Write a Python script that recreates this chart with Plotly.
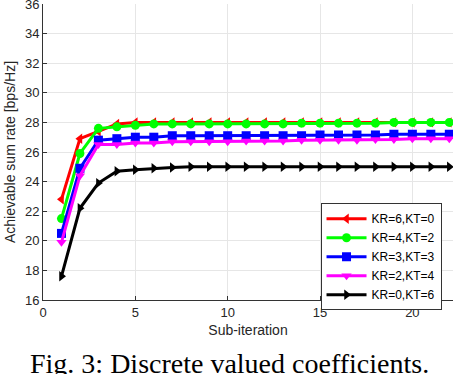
"""
Sum rate vs sub-iteration, discrete valued coefficients
"""

import plotly.graph_objects as go

sub_iter = list(range(1, 23))

kr6_kt0 = [22.8, 26.9, 27.4, 27.9, 28.0, 28.0, 28.0, 28.0, 28.0, 28.0, 28.0,
           28.0, 28.0, 28.0, 28.0, 28.0, 28.0, 28.0, 28.0, 28.0, 28.0, 28.0]
kr4_kt2 = [21.5, 25.9, 27.6, 27.7, 27.8, 27.9, 27.9, 27.9, 27.9, 27.9, 27.9,
           27.9, 27.9, 27.95, 27.95, 27.95, 27.95, 27.95, 28.0, 28.0, 28.0, 28.0]
kr3_kt3 = [20.5, 24.9, 26.8, 26.9, 27.0, 27.0, 27.1, 27.1, 27.1, 27.1, 27.1,
           27.1, 27.1, 27.1, 27.15, 27.15, 27.15, 27.15, 27.2, 27.2, 27.2, 27.2]
kr2_kt4 = [19.9, 24.4, 26.5, 26.5, 26.6, 26.6, 26.7, 26.7, 26.7, 26.7, 26.75,
           26.75, 26.75, 26.8, 26.8, 26.8, 26.8, 26.85, 26.85, 26.9, 26.9, 26.9]
kr0_kt6 = [17.6, 22.2, 23.9, 24.7, 24.8, 24.9, 24.95, 25.0, 25.0, 25.0, 25.0,
           25.0, 25.0, 25.0, 25.0, 25.0, 25.0, 25.0, 25.0, 25.0, 25.0, 25.0]

series = [
    ("KR=6,KT=0", kr6_kt0, "#ff0000", "triangle-left"),
    ("KR=4,KT=2", kr4_kt2, "#00ff00", "circle"),
    ("KR=3,KT=3", kr3_kt3, "#0000ff", "square"),
    ("KR=2,KT=4", kr2_kt4, "#ff00ff", "triangle-down"),
    ("KR=0,KT=6", kr0_kt6, "#000000", "triangle-right"),
]

fig = go.Figure()
for name, vals, col, sym in series:
    fig.add_trace(go.Scatter(
        x=sub_iter, y=vals, name=name, mode="lines+markers",
        line=dict(color=col, width=3),
        marker=dict(symbol=sym, size=9, color=col),
    ))

axis_style = dict(
    showgrid=True, gridcolor="#e6e6e6", gridwidth=1,
    showline=True, linecolor="#333333", linewidth=1,
    ticks="inside", ticklen=4, tickcolor="#333333",
    tickfont=dict(family="Liberation Sans, Arial", size=13, color="#262626"),
    zeroline=False, mirror=False, automargin=False,
    ticklabeloverflow="allow",
)

fig.update_xaxes(range=[0, 22.2], tickvals=[0, 5, 10, 15, 20], **axis_style,
                 title=dict(text="Sub-iteration", standoff=6,
                            font=dict(family="Liberation Sans, Arial", size=14, color="#262626")))
fig.update_yaxes(range=[16, 36], tickvals=list(range(16, 37, 2)), **axis_style,
                 title=dict(text="Achievable sum rate [bps/Hz]", standoff=6,
                            font=dict(family="Liberation Sans, Arial", size=14, color="#262626")))

fig.update_layout(
    width=458, height=374,
    margin=dict(l=43, r=5, t=4, b=74),
    plot_bgcolor="white", paper_bgcolor="white",
    showlegend=True,
    legend=dict(
        x=0.972, y=0.327, xanchor="right", yanchor="top",
        bgcolor="white", bordercolor="#333333", borderwidth=1,
        font=dict(family="Liberation Sans, Arial", size=12, color="#000000"),
        tracegroupgap=0, itemwidth=40,
    ),
    annotations=[dict(
        text="Fig. 3: Discrete valued coefficients.",
        xref="paper", yref="paper", x=-0.037, y=-0.157, xanchor="left", yanchor="top",
        showarrow=False,
        font=dict(family="Liberation Serif, Times New Roman", size=28, color="#000000"),
    )],
)

# page body has an 8px default margin, drop it so the figure sits at 0,0
fig.write_html("out.html", config={"displayModeBar": False},
               post_script="document.body.style.margin='0';")
